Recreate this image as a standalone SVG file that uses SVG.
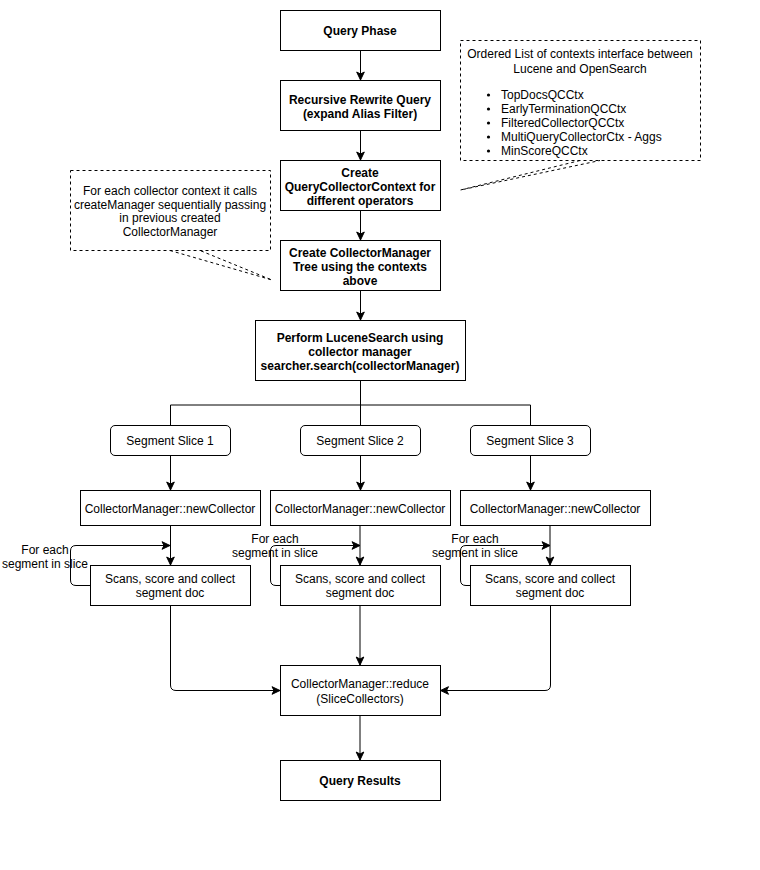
<svg xmlns="http://www.w3.org/2000/svg" width="760" height="870" viewBox="0 0 760 870">
<style>
.box{fill:#fff;stroke:#000;stroke-width:1}
.note{fill:#fff;stroke:#000;stroke-width:1;stroke-dasharray:3 3}
.tail{fill:none;stroke:#000;stroke-width:1;stroke-dasharray:3 3}
.t{font-family:"Liberation Sans",Arial,Helvetica,sans-serif;font-size:12px;fill:#000;text-anchor:middle}
.b{font-weight:bold}
.l{text-anchor:start}
.c{fill:none;stroke:#000;stroke-width:1}
.a{marker-end:url(#arr)}
</style>
<defs>
<marker id="arr" markerUnits="userSpaceOnUse" markerWidth="10" markerHeight="10" viewBox="0 0 10 10" refX="9" refY="5" orient="auto">
<path d="M1,1.2 L9,5 L1,8.8 L3,5 Z" fill="#000" stroke="#000" stroke-width="1"/>
</marker>
</defs>
<rect width="760" height="870" fill="#fff"/>

<g id="connectors">
<path class="c a" d="M360.5,50.5 V80"/>
<path class="c a" d="M360.5,130.5 V160"/>
<path class="c a" d="M360.5,210.5 V240"/>
<path class="c a" d="M360.5,290.5 V320"/>
<path class="c" d="M360.5,380.5 V405 M170.5,405 H530.5 M170.5,405 V425 M360.5,405 V425 M530.5,405 V425"/>
<path class="c a" d="M170.5,455.5 V490"/>
<path class="c a" d="M360.5,455.5 V490"/>
<path class="c a" d="M530.5,455.5 V490"/>
<path class="c a" d="M170.5,525.5 V565"/>
<path class="c a" d="M360,525.5 V565"/>
<path class="c a" d="M550,525.5 V565"/>
<path class="c a" d="M90,585.5 H76 Q70.5,585.5 70.5,580 V551 Q70.5,545.5 76,545.5 H170"/>
<path class="c a" d="M280,585.5 H276 Q270.5,585.5 270.5,580 V551 Q270.5,545.5 276,545.5 H360"/>
<path class="c a" d="M470,585.5 H466 Q460.5,585.5 460.5,580 V551 Q460.5,545.5 466,545.5 H550"/>
<path class="c a" d="M170.5,605.5 V685 Q170.5,690.5 176,690.5 H280"/>
<path class="c a" d="M360,605.5 V665"/>
<path class="c a" d="M550.5,605.5 V685 Q550.5,690.5 545,690.5 H440.5"/>
<path class="c a" d="M360,715.5 V760"/>
</g>

<g id="note-contexts">
<rect class="note" x="460.5" y="40.5" width="240" height="120"/>
<path class="tail" d="M580,160.5 L460.5,190 L600,160.5"/>
<text class="t" x="580" y="58">Ordered List of contexts interface between</text>
<text class="t" x="580" y="73">Lucene and OpenSearch</text>
<circle cx="488.5" cy="95" r="1.6"/>
<circle cx="488.5" cy="109" r="1.6"/>
<circle cx="488.5" cy="123" r="1.6"/>
<circle cx="488.5" cy="137" r="1.6"/>
<circle cx="488.5" cy="151" r="1.6"/>
<text class="t l" x="501" y="99">TopDocsQCCtx</text>
<text class="t l" x="501" y="113">EarlyTerminationQCCtx</text>
<text class="t l" x="501" y="127">FilteredCollectorQCCtx</text>
<text class="t l" x="501" y="141">MultiQueryCollectorCtx - Aggs</text>
<text class="t l" x="501" y="155">MinScoreQCCtx</text>
</g>

<g id="note-manager">
<rect class="note" x="70.5" y="170.5" width="200" height="80"/>
<path class="tail" d="M170,250.5 L272,280 L200,250.5"/>
<text class="t" x="170" y="195">For each collector context it calls</text>
<text class="t" x="170" y="209">createManager sequentially passing</text>
<text class="t" x="170" y="222">in previous created</text>
<text class="t" x="170" y="236">CollectorManager</text>
</g>

<g id="query-phase">
<rect class="box" x="280.5" y="10.5" width="160" height="40"/>
<text class="t b" x="360" y="35">Query Phase</text>
</g>
<g id="rewrite">
<rect class="box" x="280.5" y="80.5" width="160" height="50"/>
<text class="t b" x="360" y="104">Recursive Rewrite Query</text>
<text class="t b" x="360" y="118">(expand Alias Filter)</text>
</g>
<g id="create-qcc">
<rect class="box" x="280.5" y="160.5" width="160" height="50"/>
<text class="t b" x="360" y="177">Create</text>
<text class="t b" x="360" y="191">QueryCollectorContext for</text>
<text class="t b" x="360" y="205">different operators</text>
</g>
<g id="create-cm">
<rect class="box" x="280.5" y="240.5" width="160" height="50"/>
<text class="t b" x="360" y="257">Create CollectorManager</text>
<text class="t b" x="360" y="271">Tree using the contexts</text>
<text class="t b" x="360" y="285">above</text>
</g>
<g id="lucene-search">
<rect class="box" x="255.5" y="320.5" width="210" height="60"/>
<text class="t b" x="360" y="342">Perform LuceneSearch using</text>
<text class="t b" x="360" y="356">collector manager</text>
<text class="t b" x="360" y="370">searcher.search(collectorManager)</text>
</g>

<g id="slice1">
<rect class="box" x="110.5" y="425.5" width="120" height="30" rx="4.5"/>
<text class="t" x="170" y="445">Segment Slice 1</text>
</g>
<g id="slice2">
<rect class="box" x="300.5" y="425.5" width="120" height="30" rx="4.5"/>
<text class="t" x="360" y="445">Segment Slice 2</text>
</g>
<g id="slice3">
<rect class="box" x="470.5" y="425.5" width="120" height="30" rx="4.5"/>
<text class="t" x="530" y="445">Segment Slice 3</text>
</g>

<g id="newcollector1">
<rect class="box" x="80.5" y="490.5" width="180" height="35"/>
<text class="t" x="170" y="513">CollectorManager::newCollector</text>
</g>
<g id="newcollector2">
<rect class="box" x="270.5" y="490.5" width="180" height="35"/>
<text class="t" x="360" y="513">CollectorManager::newCollector</text>
</g>
<g id="newcollector3">
<rect class="box" x="460.5" y="490.5" width="190" height="35"/>
<text class="t" x="555" y="513">CollectorManager::newCollector</text>
</g>

<g id="loop-label1">
<text class="t" x="45" y="554">For each</text>
<text class="t" x="45" y="568">segment in slice</text>
</g>
<g id="loop-label2">
<text class="t" x="275" y="543">For each</text>
<text class="t" x="275" y="557">segment in slice</text>
</g>
<g id="loop-label3">
<text class="t" x="475" y="543">For each</text>
<text class="t" x="475" y="557">segment in slice</text>
</g>

<g id="scan1">
<rect class="box" x="90.5" y="565.5" width="160" height="40"/>
<text class="t" x="170" y="583">Scans, score and collect</text>
<text class="t" x="170" y="597">segment doc</text>
</g>
<g id="scan2">
<rect class="box" x="280.5" y="565.5" width="160" height="40"/>
<text class="t" x="360" y="583">Scans, score and collect</text>
<text class="t" x="360" y="597">segment doc</text>
</g>
<g id="scan3">
<rect class="box" x="470.5" y="565.5" width="160" height="40"/>
<text class="t" x="550" y="583">Scans, score and collect</text>
<text class="t" x="550" y="597">segment doc</text>
</g>

<g id="reduce">
<rect class="box" x="280.5" y="665.5" width="160" height="50"/>
<text class="t" x="360" y="688">CollectorManager::reduce</text>
<text class="t" x="360" y="703">(SliceCollectors)</text>
</g>
<g id="results">
<rect class="box" x="280.5" y="760.5" width="160" height="40"/>
<text class="t b" x="360" y="785">Query Results</text>
</g>
</svg>
